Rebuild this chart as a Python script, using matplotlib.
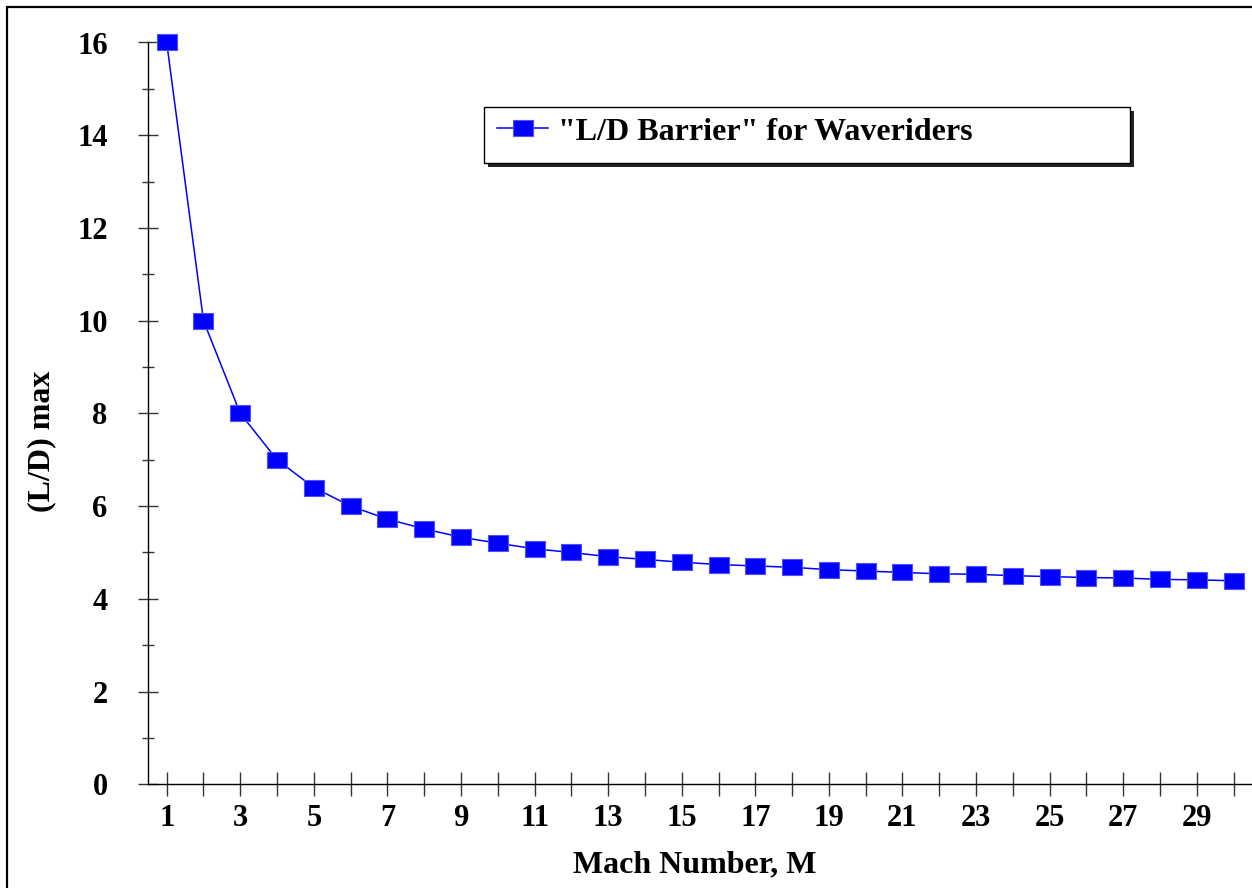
import numpy as np
import matplotlib
matplotlib.use("Agg")
import matplotlib.pyplot as plt
from matplotlib.path import Path
from matplotlib.patches import Rectangle

# data
mach = list(range(1, 31))
ld_max = [16.0, 10.0, 8.0, 7.0, 6.40, 6.00, 5.72, 5.51, 5.33, 5.20,
          5.08, 5.00, 4.91, 4.85, 4.79, 4.74, 4.71, 4.68, 4.63, 4.60,
          4.57, 4.54, 4.53, 4.50, 4.48, 4.46, 4.45, 4.42, 4.41, 4.39]
xtick_labels = [str(m) if m % 2 == 1 else "" for m in mach]
yticks = [0, 2, 4, 6, 8, 10, 12, 14, 16]
series_name = '"L/D Barrier" for Waveriders'

plt.rcParams['font.family'] = ['Liberation Serif', 'DejaVu Serif']
plt.rcParams['font.weight'] = 'bold'

W, H = 1252, 888
fig = plt.figure(figsize=(W / 100, H / 100), dpi=100)
ax = fig.add_axes([148.3 / W, (H - 784.3) / H, 1 - 148.3 / W, (784.3 - 42.5) / H])

# slightly wide square marker like the original
box = Path([(-1, -0.8), (1, -0.8), (1, 0.8), (-1, 0.8), (-1, -0.8)],
           [Path.MOVETO, Path.LINETO, Path.LINETO, Path.LINETO, Path.CLOSEPOLY])

ax.plot(mach, ld_max, color='#0000ff', lw=1.1, marker=box, markersize=14,
        markerfacecolor='#0000ff', markeredgecolor='#5050ff', markeredgewidth=0.8,
        label=series_name, clip_on=False, zorder=3)

ax.set_xlim(0.5, 30.5)
ax.set_ylim(0, 16)
ax.set_xticks(mach)
ax.set_xticklabels(xtick_labels)
ax.set_yticks(yticks)
ax.set_yticks(np.arange(1, 16, 2), minor=True)

for s in ['top', 'right']:
    ax.spines[s].set_visible(False)
for s in ['left', 'bottom']:
    ax.spines[s].set_linewidth(1.0)
    ax.spines[s].set_color('black')

ax.tick_params(axis='x', which='major', direction='inout', length=17, width=1.0,
               color='#333333', labelsize=22, pad=6)
ax.tick_params(axis='y', which='major', direction='inout', length=14.4, width=1.0,
               color='#333333', labelsize=22, pad=22)
ax.tick_params(axis='y', which='minor', direction='inout', length=9, width=1.0,
               color='#333333')
for lab in ax.get_xticklabels() + ax.get_yticklabels():
    lab.set_fontweight('bold')

ax.set_xlabel('Mach Number, M', fontsize=23, fontweight='bold')
ax.set_ylabel('(L/D) max', fontsize=23, fontweight='bold')
ax.xaxis.set_label_coords(0.4949, -0.089)
ax.yaxis.set_label_coords(-0.083, 0.4628)

# legend box with drop shadow
lx0, lx1 = (484.3 - 148.3) / 1103.7, (1130 - 148.3) / 1103.7
ly0, ly1 = (784.3 - 163) / 741.8, (784.3 - 106.7) / 741.8
dx, dy = 4 / 1103.7, 4 / 741.8
ax.add_patch(Rectangle((lx0 + dx, ly0 - dy), lx1 - lx0, ly1 - ly0, transform=ax.transAxes,
                       facecolor='#222222', edgecolor='none', zorder=4, clip_on=False))
ax.add_patch(Rectangle((lx0, ly0), lx1 - lx0, ly1 - ly0, transform=ax.transAxes,
                       facecolor='white', edgecolor='black', lw=1.0, zorder=5, clip_on=False))
leg = ax.legend(loc='center left', bbox_to_anchor=(lx0, (ly0 + ly1) / 2 + 0.004),
                frameon=False, borderaxespad=0, borderpad=0.4, handlelength=1.6,
                handletextpad=0.31, prop={'size': 23, 'weight': 'bold'})
leg.set_zorder(6)

# outer border of the figure
fig.patches.append(Rectangle((6.7 / W, -0.1), 1.2, (H - 6.7) / H + 0.1,
                             transform=fig.transFigure, fill=False,
                             edgecolor='black', lw=1.6))

fig.savefig('out.png', dpi=100)
